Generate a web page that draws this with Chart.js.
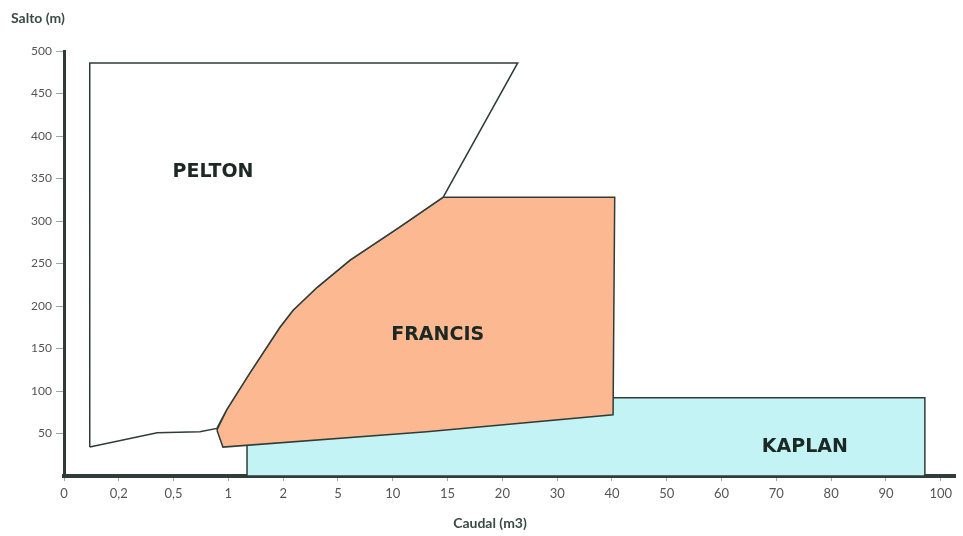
<!DOCTYPE html>
<html>
<head>
<meta charset="utf-8">
<script src="https://cdn.jsdelivr.net/npm/chart.js@4.4.1/dist/chart.umd.min.js"></script>
<style>
  html, body { margin: 0; padding: 0; background: #fff; }
  #wrap { width: 963px; height: 536px; }
</style>
</head>
<body>
<div id="wrap"><canvas id="turbineChart" width="963" height="536"></canvas></div>
<script>
// x axis is an evenly spaced category axis, so x values are positions in this list
var xLabels = ['0', '0,2', '0,5', '1', '2', '5', '10', '15', '20', '30', '40', '50', '60', '70', '80', '90', '100'];
var yTicks = [50, 100, 150, 200, 250, 300, 350, 400, 450, 500];

// outlines (x = index on the caudal axis, y = salto in m)
var peltonX = [0.47, 0.47, 8.28, 6.92, 6.13, 5.22, 4.62, 4.18, 3.94, 3.39, 2.97, 2.79, 2.48, 1.70, 0.47];
var peltonY = [34, 486, 486, 328, 293, 254, 222, 195, 175, 121, 78, 56, 52, 51, 34];

var francisX = [2.79, 2.90, 6.62, 10.02, 10.05, 6.92, 6.13, 5.22, 4.62, 4.18, 3.94, 3.39, 2.97, 2.79];
var francisY = [54, 34, 52, 72, 328, 328, 293, 254, 222, 195, 175, 121, 78, 54];

var kaplanX = [3.34, 3.34, 15.71, 15.71, 3.34];
var kaplanY = [0, 92, 92, 0, 0];

var regionNames = ['PELTON', 'FRANCIS', 'KAPLAN'];
var regionLabelX = [2.72, 6.82, 13.52];
var regionLabelY = [358, 166, 34];

function toPoints(xs, ys) {
    return xs.map(function(x, i) { return { x: x, y: ys[i] }; });
}

var lineColor = '#2f3d39';

var textPlugin = {
    id: 'textPlugin',
    afterDatasetsDraw: function(chart) {
        var ctx = chart.ctx;
        var xs = chart.scales.x, ys = chart.scales.y;
        ctx.save();
        ctx.fillStyle = '#1b2824';
        ctx.font = 'bold 19px "DejaVu Sans", sans-serif';
        ctx.textAlign = 'center';
        ctx.textBaseline = 'middle';
        regionNames.forEach(function(name, i) {
            ctx.fillText(name, xs.getPixelForValue(regionLabelX[i]), ys.getPixelForValue(regionLabelY[i]));
        });
        ctx.fillStyle = '#3b4a46';
        ctx.font = 'bold 14px Lato, "DejaVu Sans", sans-serif';
        ctx.textAlign = 'left';
        ctx.fillText('Salto (m)', 11, 18);
        ctx.textAlign = 'center';
        ctx.fillText('Caudal (m3)', 490, 523);
        ctx.restore();
    }
};

var ctx = document.getElementById('turbineChart').getContext('2d');
new Chart(ctx, {
    type: 'line',
    data: {
        datasets: [
            {
                label: 'Pelton',
                data: toPoints(peltonX, peltonY),
                borderColor: lineColor,
                borderWidth: 1.5,
                backgroundColor: '#ffffff',
                fill: 'shape',
                pointRadius: 0,
                tension: 0,
                order: 1
            },
            {
                label: 'Francis',
                data: toPoints(francisX, francisY),
                borderColor: lineColor,
                borderWidth: 1.5,
                backgroundColor: '#fcb890',
                fill: 'shape',
                pointRadius: 0,
                tension: 0,
                order: 2
            },
            {
                label: 'Kaplan',
                data: toPoints(kaplanX, kaplanY),
                borderColor: lineColor,
                borderWidth: 1.5,
                backgroundColor: '#c4f3f6',
                fill: 'shape',
                pointRadius: 0,
                tension: 0,
                order: 3
            }
        ]
    },
    options: {
        responsive: false,
        animation: false,
        devicePixelRatio: 1,
        layout: { padding: { top: 51, right: 8, left: 0, bottom: 0 } },
        plugins: {
            legend: { display: false },
            tooltip: { enabled: false }
        },
        scales: {
            x: {
                type: 'linear',
                min: 0,
                max: 16.26,
                afterBuildTicks: function(scale) {
                    scale.ticks = xLabels.map(function(_, i) { return { value: i }; });
                },
                afterFit: function(scale) { scale.height = 60; },
                ticks: {
                    autoSkip: false,
                    maxRotation: 0,
                    padding: 5,
                    color: '#555',
                    font: { family: 'Lato, "DejaVu Sans", sans-serif', size: 13 },
                    callback: function(v) { return xLabels[v]; }
                },
                grid: { drawOnChartArea: false, tickLength: 5, color: '#9aa' },
                border: { color: lineColor, width: 4 }
            },
            y: {
                min: 0,
                max: 500,
                afterBuildTicks: function(scale) {
                    scale.ticks = yTicks.map(function(v) { return { value: v }; });
                },
                afterFit: function(scale) { scale.width = 64; },
                ticks: {
                    padding: 4,
                    color: '#555',
                    font: { family: 'Lato, "DejaVu Sans", sans-serif', size: 12 },
                    callback: function(v) { return String(v); }
                },
                grid: { drawOnChartArea: false, tickLength: 8, color: '#9aa' },
                border: { color: lineColor, width: 3 }
            }
        }
    },
    plugins: [textPlugin]
});
</script>
</body>
</html>
